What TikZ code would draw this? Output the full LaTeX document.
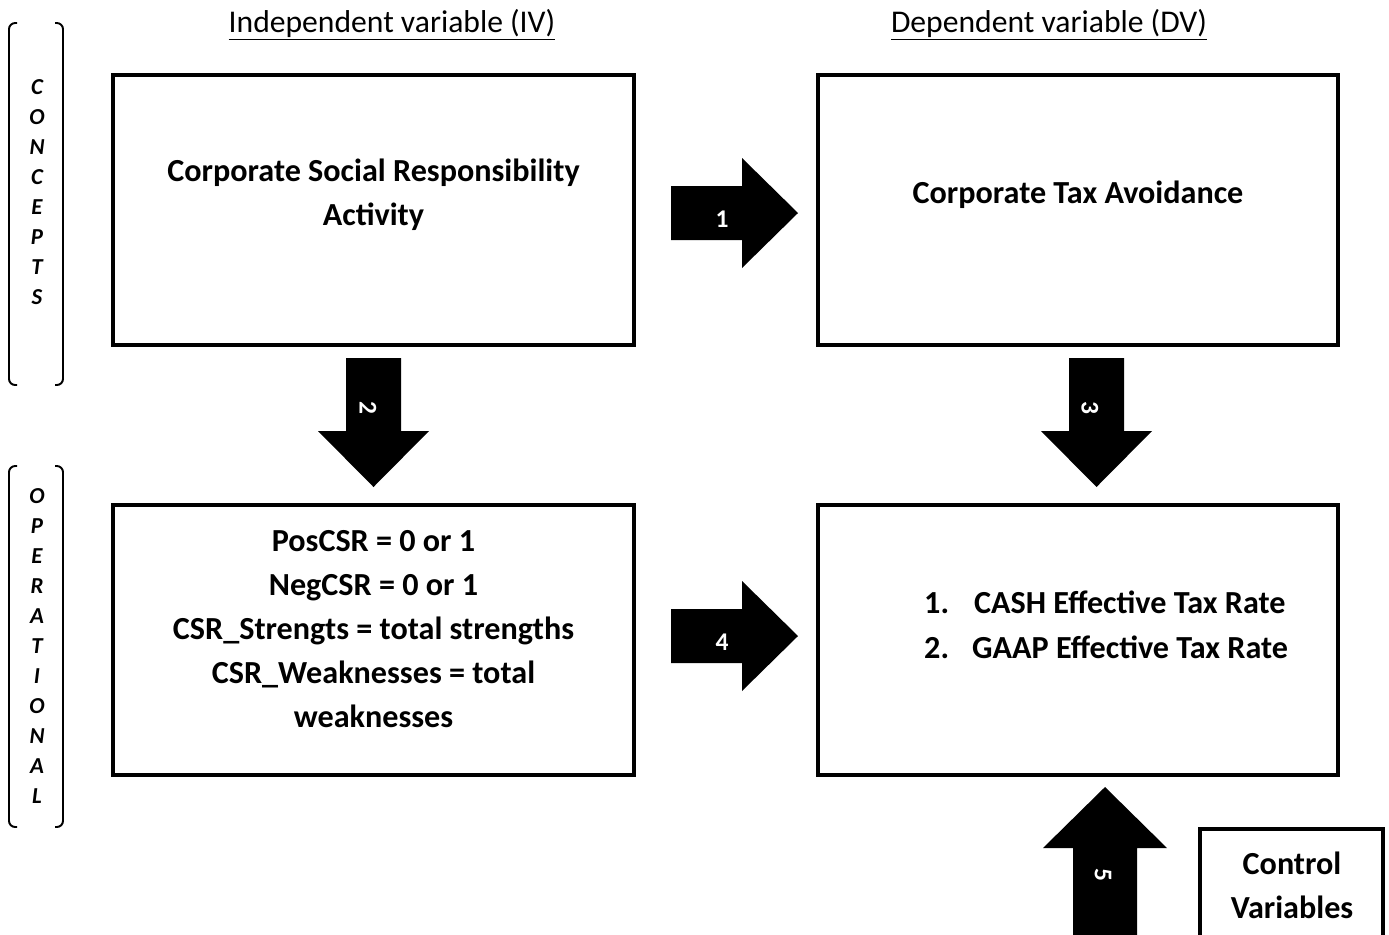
\documentclass[tikz,border=0pt]{standalone}
\usepackage{fontspec}
\setmainfont{Carlito}
\tikzset{
  box/.style={draw, line width=2.3pt, inner sep=0pt},
  lbl/.style={font=\fontsize{18.3}{25}\selectfont\bfseries, align=center},
  hdr/.style={font=\fontsize{18}{25}\selectfont},
  numlbl/.style={font=\fontsize{14.5}{16}\selectfont\bfseries, text=white},
  vlet/.style={font=\fontsize{13}{15}\selectfont\bfseries\itshape},
  brace/.style={line width=1.1pt, rounded corners=3.5pt},
  blockarrow/.style={fill=black},
}

\begin{document}
\begin{tikzpicture}[x=0.02cm, y=-0.02cm]
% Pixel grid of the original: x right, y down, 1389 x 934.
\useasboundingbox (0,0) rectangle (1389,934);
\clip (0,0) rectangle (1389,934);
% Column headings
\node[hdr] (ivhead) at (392,25) {\underline{Independent variable (IV)}};
\node[hdr] (dvhead) at (1049,25) {\underline{Dependent variable (DV)}};
% Side brackets with spelled-out row names
\draw[brace] (17,23) -- (9,23) -- (9,385) -- (17,385);
\draw[brace] (55,23) -- (63,23) -- (63,385) -- (55,385);
\foreach \ch [count=\k] in {C,O,N,C,E,P,T,S}
  \node[vlet] (con\k) at (37,{57+30*\k}) {\ch};
\draw[brace] (17,466) -- (9,466) -- (9,827) -- (17,827);
\draw[brace] (55,466) -- (63,466) -- (63,827) -- (55,827);
\foreach \ch [count=\k] in {O,P,E,R,A,T,I,O,N,A,L}
  \node[vlet] (ope\k) at (37,{466+30*\k}) {\ch};
% Concept boxes
\node[box, minimum width=10.42cm, minimum height=5.4cm] (csr) at (373.5,210) {};
\node[box, minimum width=10.4cm, minimum height=5.4cm] (tax) at (1078,210) {};
\node[lbl] (csrtxt) at (373.5,195) {Corporate Social Responsibility\\Activity};
\node[lbl] (taxtxt) at (1078,195) {Corporate Tax Avoidance};
% Operational boxes
\node[box, minimum width=10.42cm, minimum height=5.4cm] (opiv) at (373.5,640) {};
\node[box, minimum width=10.4cm, minimum height=5.4cm] (opdv) at (1078,640) {};
\node[lbl] (opivtxt) at (373.5,629) {PosCSR = 0 or 1\\NegCSR = 0 or 1\\CSR\_Strengts = total strengths\\CSR\_Weaknesses = total\\weaknesses};
\node[lbl, anchor=base west] (no1) at (918,613) {1.};
\node[lbl, anchor=base west] (cash) at (968,613) {CASH Effective Tax Rate};
\node[lbl, anchor=base west] (no2) at (918,658) {2.};
\node[lbl, anchor=base west] (gaap) at (966,658) {GAAP Effective Tax Rate};
% Control variables (bottom edge runs off the page)
\node[box, minimum width=3.66cm, minimum height=2.3cm] (ctrl) at (1291.5,886) {};
\node[lbl] (ctrltxt) at (1292,885) {Control\\Variables};
% Block arrows
\fill[blockarrow] (671,186) -- ++(71,0) -- ++(0,-28) -- ++(56,55) -- ++(-56,55)
  -- ++(0,-28) -- ++(-71,0) -- cycle;
\node[numlbl] (a1) at (722,219) {1};
\fill[blockarrow] (671,609) -- ++(71,0) -- ++(0,-28) -- ++(56,55) -- ++(-56,55)
  -- ++(0,-28) -- ++(-71,0) -- cycle;
\node[numlbl] (a4) at (722,642) {4};
\fill[blockarrow] (346,358) -- ++(55,0) -- ++(0,73) -- ++(28,0) -- ++(-55.5,56)
  -- ++(-55.5,-56) -- ++(28,0) -- cycle;
\node[numlbl, rotate=-90] (a2) at (368,408) {2};
\fill[blockarrow] (1069,358) -- ++(55,0) -- ++(0,73) -- ++(28,0) -- ++(-55.5,56)
  -- ++(-55.5,-56) -- ++(28,0) -- cycle;
\node[numlbl, rotate=-90] (a3) at (1090,408) {3};
\fill[blockarrow] (1073,940) -- ++(0,-92) -- ++(-30,0) -- ++(62,-61) -- ++(62,61)
  -- ++(-30,0) -- ++(0,92) -- cycle;
\node[numlbl, rotate=-90] (a5) at (1103,875) {5};
\end{tikzpicture}
\end{document}
